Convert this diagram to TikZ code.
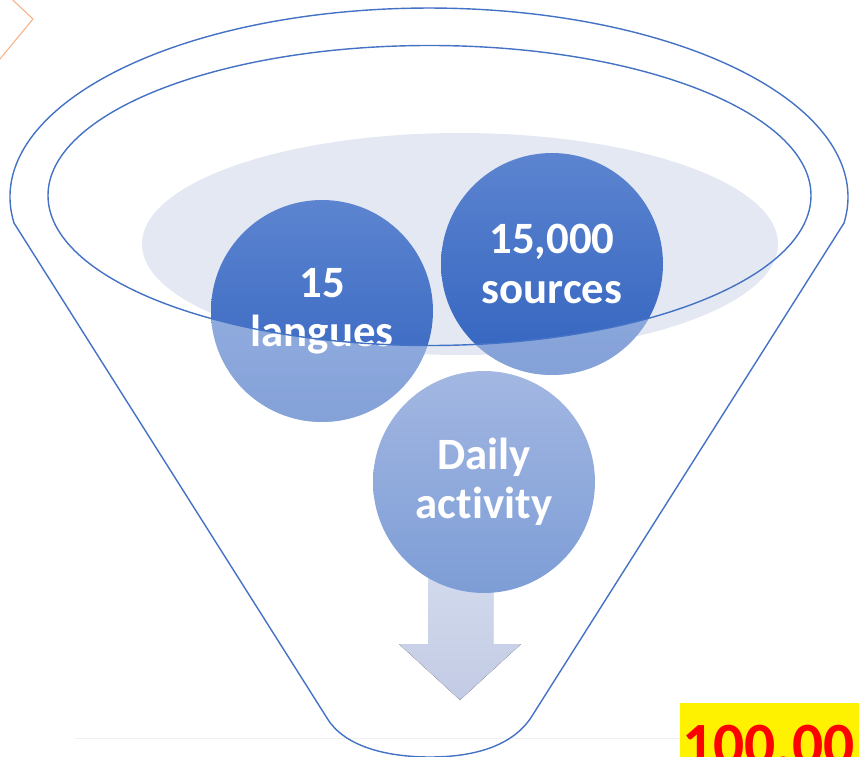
\documentclass[tikz,border=0pt]{standalone}
\usepackage{fontspec}
\usepackage{tikz}
\newfontfamily\carlito{Carlito}[Ligatures = NoCommon]
\definecolor{funnelblue}{HTML}{4472C4}
\definecolor{mistblue}{HTML}{E3E8F3}
\definecolor{peach}{HTML}{F4B183}

\begin{document}
\begin{tikzpicture}
    [x = 0.02cm, y = -0.02cm,
     rim/.style = {draw = funnelblue, line width = .8pt},
     ball/.style = {circle, minimum size = 4.44cm, inner sep = 0pt, align = center,
                    text = white, font = \carlito\bfseries\fontsize{25.5}{28}\selectfont},
     deep ball/.style = {ball, top color = {rgb,255:red,92;green,132;blue,208}, bottom color = {rgb,255:red,50;green,99;blue,191}},
     pale ball/.style = {ball, top color = {rgb,255:red,163;green,183;blue,226}, bottom color = {rgb,255:red,125;green,157;blue,214}}]
    \clip (0,0) rectangle (859,757);

    % paper bits
    \draw[peach, line width = .6pt] (-5,65) -- (33,19) -- (0,-12);
    \draw[black!6, line width = .4pt] (75,738) -- (680,738);
    \fill[yellow] (680,703) rectangle (870,770);
    \node[anchor = base west, inner sep = 0pt, text = red,
          font = \carlito\bfseries\fontsize{35}{40}\selectfont] (score) at (682,765) {100.00};

    % funnel
    \fill[mistblue] (460,244) ellipse [x radius = 318, y radius = 111];
    \draw[rim] (14,223) arc [start angle = 172.1, end angle = 367.9, x radius = 419, y radius = 189]
      -- (532,716) .. controls (512,748) and (470,757) .. (430,757)
      .. controls (390,757) and (345,748) .. (327,718) -- cycle;

    \fill[top color = {rgb,255:red,212;green,219;blue,238}, bottom color = {rgb,255:red,194;green,203;blue,228}]
      (428,560) -- (493,560) -- (493,644) -- (521,644) -- (460,700) -- (399,644) -- (428,644) -- cycle;

    \node[pale ball] (daily) at (484,482) {Daily\\activity};
    \node[deep ball] (langues) at (322,311) {15\\langues};
    \node[deep ball] (sources) at (552,264) {15,000\\sources};

    \begin{scope}[even odd rule]
      \clip (0,0) rectangle (859,757) (429.5,195.5) ellipse [x radius = 381.5, y radius = 150];
      \foreach \ball in {langues, sources}
        \fill[white, opacity = .4] (\ball) circle [radius = 111];
    \end{scope}
    \draw[rim] (429.5,195.5) ellipse [x radius = 381.5, y radius = 150];
\end{tikzpicture}
\end{document}
